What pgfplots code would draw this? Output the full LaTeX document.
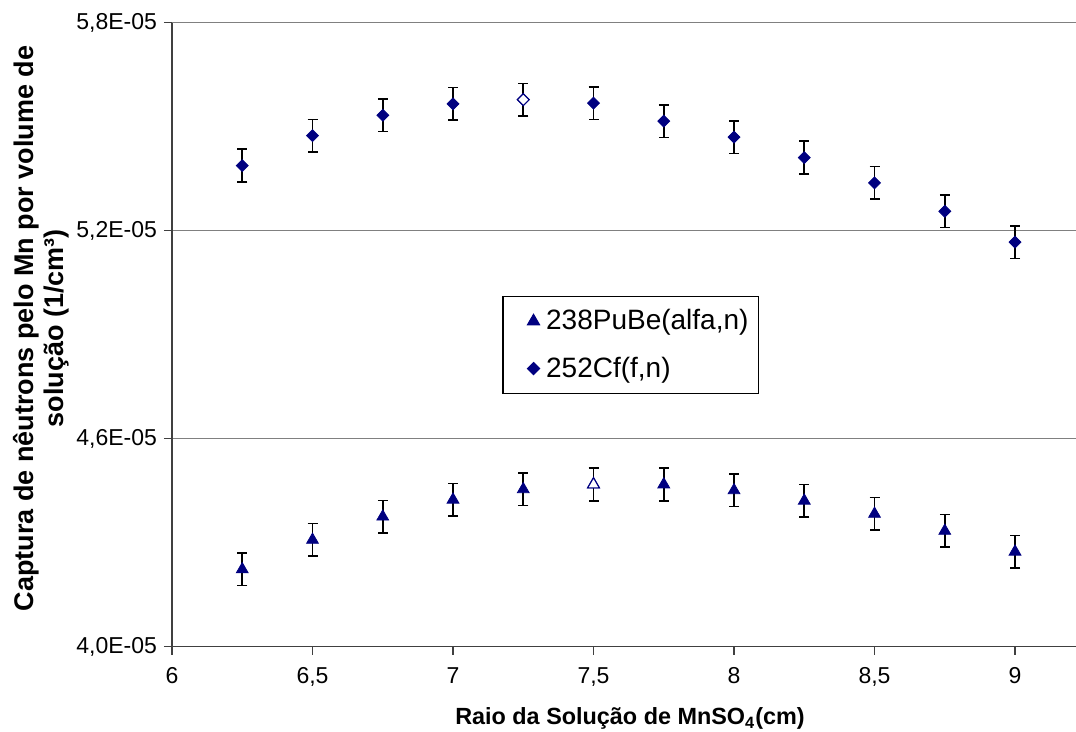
\documentclass[border=0pt]{standalone}
\usepackage{pgfplots}
\pgfplotsset{compat=1.18}
\usepackage{pgfplotstable}
\usepackage{fontspec}
\setmainfont{Liberation Sans}
\definecolor{navy}{HTML}{000080}
\definecolor{gridgray}{HTML}{808080}
\definecolor{axisgray}{HTML}{404040}

% captura de neutrons (1/cm^3) x raio (cm)
\pgfplotstableread{
x     y         e
6.25  4.223e-5  4.7e-7
6.5   4.308e-5  4.7e-7
6.75  4.375e-5  4.7e-7
7     4.424e-5  4.7e-7
7.25  4.454e-5  4.7e-7
7.5   4.468e-5  4.7e-7
7.75  4.468e-5  4.7e-7
8     4.451e-5  4.7e-7
8.25  4.421e-5  4.7e-7
8.5   4.383e-5  4.7e-7
8.75  4.334e-5  4.7e-7
9     4.274e-5  4.7e-7
}\pube
\pgfplotstableread{
x     y         e
6.25  5.388e-5  4.7e-7
6.5   5.474e-5  4.7e-7
6.75  5.533e-5  4.7e-7
7     5.566e-5  4.7e-7
7.25  5.578e-5  4.7e-7
7.5   5.568e-5  4.7e-7
7.75  5.516e-5  4.7e-7
8     5.470e-5  4.7e-7
8.25  5.411e-5  4.7e-7
8.5   5.338e-5  4.7e-7
8.75  5.256e-5  4.7e-7
9     5.167e-5  4.7e-7
}\cf

\begin{document}
\begin{tikzpicture}
\begin{axis}[
  at={(0,0)}, anchor=south west,
  scale only axis, width=452pt, height=312pt,
  xmin=6, xmax=9.217, ymin=4.0e-5, ymax=5.8e-5,
  axis x line*=bottom, axis y line*=left,
  axis line style={axisgray, line width=0.7pt},
  xtick={6,6.5,7,7.5,8,8.5,9},
  xticklabels={6,{6,5},7,{7,5},8,{8,5},9},
  ytick={4.0e-5,4.6e-5,5.2e-5,5.8e-5},
  yticklabels={{4,0E-05},{4,6E-05},{5,2E-05},{5,8E-05}},
  scaled y ticks=false,
  tick align=outside, major tick length=4pt,
  tick style={axisgray, line width=0.7pt},
  ymajorgrids, grid style={gridgray, line width=0.6pt},
  tick label style={font=\fontsize{11.5}{13}\selectfont},
  xticklabel style={yshift=-3pt},
  xlabel={Raio da Solução de MnSO\textsubscript{4}(cm)},
  ylabel={Captura de nêutrons pelo Mn por volume de\\solução (1/cm³)},
  xlabel style={font=\bfseries\fontsize{11.7}{14}\selectfont,
    at={(axis description cs:0.5066,-0.1247)}, anchor=base},
  ylabel style={font=\bfseries\fontsize{13.5}{15}\selectfont, align=center,
    at={(axis description cs:-0.145,0.51)}, anchor=center},
  legend cell align=left,
  legend image code/.code={\path (-8pt,0pt) (8pt,0pt); \draw[#1] plot coordinates {(4pt,0pt)};},
  legend style={at={(axis description cs:0.3654,0.562)}, anchor=north west,
    draw=black, line width=0.6pt, fill=white,
    font=\fontsize{14}{16}\selectfont,
    inner xsep=3pt, inner ysep=4.5pt, row sep=8pt},
  error bars/y dir=both, error bars/y explicit,
  error bars/error bar style={black, line width=0.8pt},
  error bars/error mark options={black, rotate=90, mark size=2.5pt, line width=0.8pt},
]
\addplot[only marks, mark=triangle*, mark size=3.4pt, color=navy]
  table[x=x, y=y, y error=e] {\pube};
\addlegendentry{238PuBe(alfa,n)}
\addplot[only marks, mark=square*, mark size=2.1pt, color=navy, mark options={rotate=45}]
  table[x=x, y=y, y error=e] {\cf};
\addlegendentry{252Cf(f,n)}
% pontos de maximo, marcadores vazados
\addplot[only marks, forget plot, mark=triangle*, mark size=3.4pt,
  mark options={fill=white, draw=navy, line width=0.6pt}, error bars/y dir=none]
  coordinates {(7.5,4.468e-5)};
\addplot[only marks, forget plot, mark=square*, mark size=2.1pt,
  mark options={rotate=45, fill=white, draw=navy, line width=0.6pt}, error bars/y dir=none]
  coordinates {(7.25,5.578e-5)};
\end{axis}
\pgfresetboundingbox
\path[use as bounding box] (-86pt,-42.65pt) rectangle (452pt,323.35pt);
\end{tikzpicture}
\end{document}
